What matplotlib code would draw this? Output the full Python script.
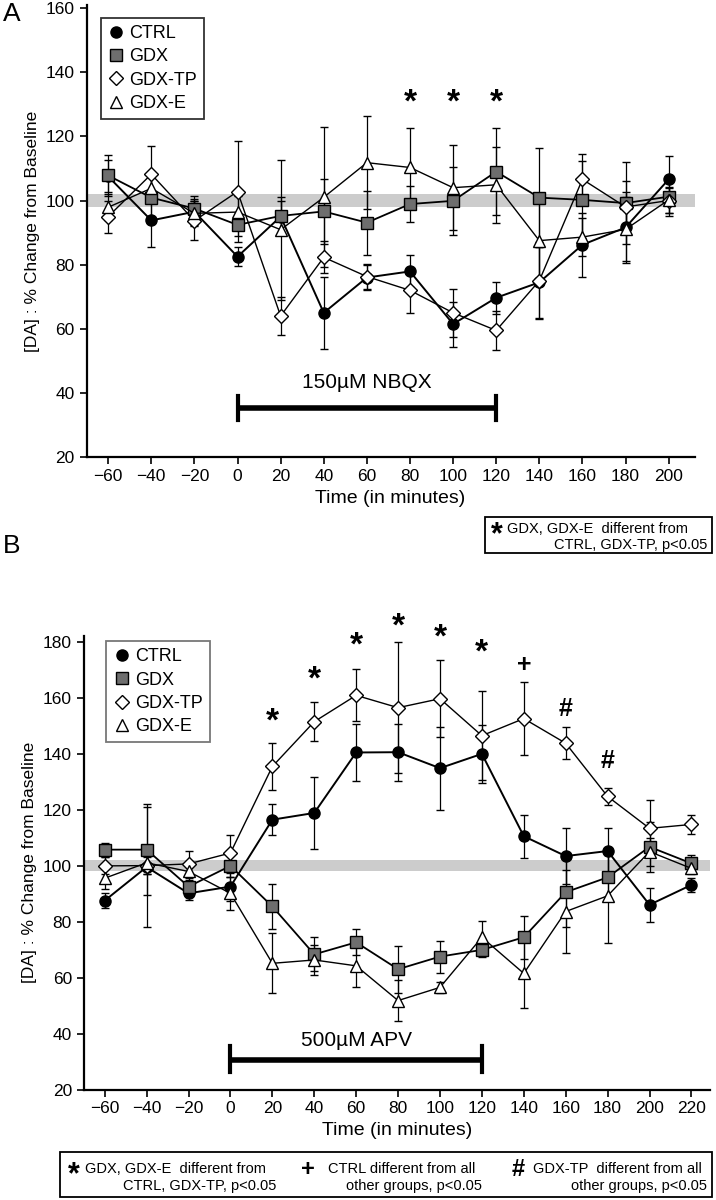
import numpy as np
import matplotlib
matplotlib.use("Agg")
from matplotlib import pyplot as plt
from matplotlib.lines import Line2D
from matplotlib.patches import Rectangle

plt.rcParams['font.family'] = ['Liberation Sans', 'DejaVu Sans']

# ---- panel A : NBQX ----
t_a = [-60, -40, -20, 0, 20, 40, 60, 80, 100, 120, 140, 160, 180, 200]
ctrl_a = [107.5, 93.8, 96.5, 82.5, 95, 65, 76, 77.9, 61.5, 69.7, 74.5, 86.2, 91.6, 106.6]
ctrl_a_err = [5, 8.3, 4, 3, 5, 11.3, 4, 5, 7, 5, 11, 10, 11, 7.3]
gdx_a = [107.8, 100.9, 97.5, 92.4, 95.2, 96.6, 93.1, 98.9, 99.9, 109, 100.9, 100.2, 99.2, 101.2]
gdx_a_err = [6.5, 7, 4, 3.5, 6, 10, 10, 5.5, 10.5, 13.5, 15.4, 12, 12.7, 6]
tp_a = [95, 108.2, 93.7, 102.8, 64, 82.3, 76.3, 72, 65, 59.5, 75, 106.6, 98, 100]
tp_a_err = [5, 8.8, 6, 15.6, 6, 5, 4, 7, 7.4, 6, 12, 8, 8, 4]
e_a = [97.9, 103.8, 96, 96.4, 90.9, 101, 111.8, 110.3, 104, 104.9, 87.5, 88.6, 91, 100.2]
e_a_err = [4, 4, 4, 5, 21.8, 21.8, 14.4, 12.4, 13.3, 11.8, 12.5, 6, 10, 4]
star_a_t = [80, 100, 120]
star_a_y = [130.5, 130.5, 130.5]

# ---- panel B : APV ----
t_b = [-60, -40, -20, 0, 20, 40, 60, 80, 100, 120, 140, 160, 180, 200, 220]
ctrl_b = [87.5, 99.5, 90.1, 92.5, 116.4, 118.8, 140.4, 140.5, 134.8, 139.9, 110.5, 103.4, 105.2, 86, 93.1]
ctrl_b_err = [2.7, 21.5, 2.5, 5, 5.6, 13, 10.3, 10.2, 14.8, 10.4, 7.7, 10, 8.3, 6, 2.5]
gdx_b = [105.7, 105.7, 92.5, 99.9, 85.4, 68.3, 72.6, 63, 67.5, 69.9, 74.4, 90.5, 95.8, 106.7, 100.8]
gdx_b_err = [2.5, 16.3, 3, 4, 8.1, 6.1, 4.7, 8.4, 5.7, 2.6, 7.6, 12.3, 8, 9, 3]
tp_b = [99.9, 100, 100.6, 104.5, 135.4, 151.4, 160.8, 156.4, 159.6, 146.4, 152.5, 143.7, 124.7, 113.3, 114.7]
tp_b_err = [3, 3, 4.6, 6.6, 8.3, 6.9, 9.3, 23.4, 13.7, 15.8, 13.1, 5.7, 3, 10.3, 3.3]
e_b = [95.5, 101, 97.9, 90.1, 65.1, 66.3, 64.2, 51.8, 56.5, 74.4, 61.5, 83.6, 89.2, 105, 99]
e_b_err = [4, 4, 3, 5.9, 10.7, 5.3, 7.7, 7.3, 2.1, 5.8, 12.5, 14.9, 16.9, 5, 2]
sig_b_t = [20, 40, 60, 80, 100, 120, 140, 160, 180]
sig_b_y = [151.3, 166.3, 178.3, 185.3, 181.3, 175.8, 171.5, 156, 137.5]
sig_b_sym = ['*', '*', '*', '*', '*', '*', '+', '#', '#']

groups = ['CTRL', 'GDX', 'GDX-TP', 'GDX-E']
mk = {'CTRL': dict(marker='o', mfc='black', ms=8),
      'GDX': dict(marker='s', mfc='#6e6e6e', ms=8),
      'GDX-TP': dict(marker='D', mfc='white', ms=7.5),
      'GDX-E': dict(marker='^', mfc='white', ms=9)}
lw = {'CTRL': 1.4, 'GDX': 1.3, 'GDX-TP': 1.0, 'GDX-E': 1.0}

fig = plt.figure(figsize=[7.16, 12], dpi=100)
ax_a = fig.add_axes([0.121, 0.619, 0.849, 0.377])
ax_b = fig.add_axes([0.117, 0.092, 0.875, 0.378])


def draw_panel(ax, t, series, errs, ylim, xlim, xticks, yticks):
    ax.axhspan(98, 102, color='#cccccc', lw=0, zorder=0)
    for g in groups:
        ax.errorbar(t, series[g], yerr=errs[g], fmt='none', ecolor='black',
                    elinewidth=0.9, capsize=3, capthick=1.0, zorder=2)
    for g in groups:
        ax.plot(t, series[g], color='black', lw=lw[g], mec='black', mew=1.0,
                zorder=3, **mk[g])
    ax.set_xlim(*xlim)
    ax.set_ylim(*ylim)
    ax.set_xticks(xticks)
    ax.set_yticks(yticks)
    for s in ['top', 'right']:
        ax.spines[s].set_visible(False)
    for s in ['left', 'bottom']:
        ax.spines[s].set_linewidth(1.6)
    ax.tick_params(direction='out', length=5, width=1.2, labelsize=12.5)
    ax.set_xlabel('Time (in minutes)', fontsize=14, labelpad=4)
    ax.set_ylabel('[DA] : % Change from Baseline', fontsize=12.5, labelpad=4)
    handles = [Line2D([], [], ls='none', mec='black', mew=1.0, **mk[g]) for g in groups]
    return handles


h = draw_panel(ax_a, t_a,
               {'CTRL': ctrl_a, 'GDX': gdx_a, 'GDX-TP': tp_a, 'GDX-E': e_a},
               {'CTRL': ctrl_a_err, 'GDX': gdx_a_err, 'GDX-TP': tp_a_err, 'GDX-E': e_a_err},
               (20, 161), (-70, 212), np.arange(-60, 201, 20), np.arange(20, 161, 20))
leg = ax_a.legend(h, groups, loc='upper left', bbox_to_anchor=(0.023, 0.971),
                  borderaxespad=0, fontsize=13, handlelength=0.9, handletextpad=0.3,
                  labelspacing=0.35, fancybox=False, borderpad=0.4)
leg.get_frame().set_edgecolor('black')
leg.get_frame().set_linewidth(1.3)
for x, y in zip(star_a_t, star_a_y):
    ax_a.text(x, y, '*', ha='center', va='center', fontsize=24, fontweight='bold')
ax_a.plot([0, 120], [35.4, 35.4], color='black', lw=4, solid_capstyle='butt')
ax_a.plot([0, 0], [31.6, 39.2], color='black', lw=3)
ax_a.plot([120, 120], [31.6, 39.2], color='black', lw=3)
ax_a.text(60, 40.3, '150µM NBQX', ha='center', va='bottom', fontsize=15)

h = draw_panel(ax_b, t_b,
               {'CTRL': ctrl_b, 'GDX': gdx_b, 'GDX-TP': tp_b, 'GDX-E': e_b},
               {'CTRL': ctrl_b_err, 'GDX': gdx_b_err, 'GDX-TP': tp_b_err, 'GDX-E': e_b_err},
               (20, 182), (-70, 229), np.arange(-60, 221, 20), np.arange(20, 181, 20))
leg = ax_b.legend(h, groups, loc='upper left', bbox_to_anchor=(0.036, 0.989),
                  borderaxespad=0, fontsize=13, handlelength=0.9, handletextpad=0.3,
                  labelspacing=0.35, fancybox=False, borderpad=0.4)
leg.get_frame().set_edgecolor('#555555')
leg.get_frame().set_linewidth(1.3)
for x, y, s in zip(sig_b_t, sig_b_y, sig_b_sym):
    fs = 24 if s == '*' else 18
    ax_b.text(x, y, s, ha='center', va='center', fontsize=fs, fontweight='bold')
ax_b.plot([0, 120], [30.6, 30.6], color='black', lw=4, solid_capstyle='butt')
ax_b.plot([0, 0], [26.4, 35.4], color='black', lw=3)
ax_b.plot([120, 120], [26.4, 35.4], color='black', lw=3)
ax_b.text(60, 34, '500µM APV', ha='center', va='bottom', fontsize=15)

# panel letters
fig.text(12 / 716, 1 - 14 / 1200, 'A', fontsize=19, va='center', ha='center')
fig.text(12 / 716, 1 - 546 / 1200, 'B', fontsize=19, va='center', ha='center')


def px(x, y):
    return x / 716, 1 - y / 1200


# note box A
fig.add_artist(Rectangle(px(485, 553), 227 / 716, 36 / 1200, transform=fig.transFigure,
                         fill=False, ec='black', lw=1.3))
fig.text(*px(497, 535.5), '*', fontsize=22, fontweight='bold', va='center', ha='center')
fig.text(*px(507, 529), 'GDX, GDX-E  different from', fontsize=10.5, va='center', ha='left')
fig.text(*px(707, 545), 'CTRL, GDX-TP, p<0.05', fontsize=10.5, va='center', ha='right')

# note box B
fig.add_artist(Rectangle(px(60, 1197), 652 / 716, 45 / 1200, transform=fig.transFigure,
                         fill=False, ec='black', lw=1.3))
notes = [(74, '*', 'GDX, GDX-E  different from', 'CTRL, GDX-TP, p<0.05', 85, 276),
         (308, '+', 'CTRL different from all', 'other groups, p<0.05', 328, 482),
         (518, '#', 'GDX-TP  different from all', 'other groups, p<0.05', 533, 707)]
for sx, sym, l1, l2, x1, x2 in notes:
    sy = 1175 if sym == '*' else 1170
    fig.text(*px(sx, sy), sym, fontsize=22 if sym == '*' else 17, fontweight='bold',
             va='center', ha='center')
    fig.text(*px(x1, 1169), l1, fontsize=10.5, va='center', ha='left')
    fig.text(*px(x2, 1186), l2, fontsize=10.5, va='center', ha='right')

fig.savefig('out.png', dpi=100)
